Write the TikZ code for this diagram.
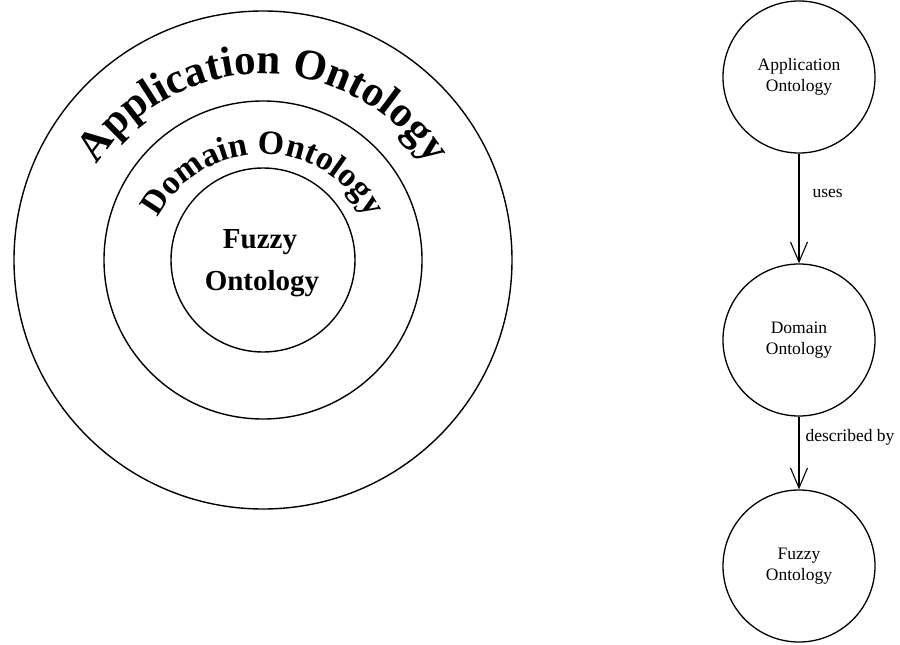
\documentclass[tikz,border=0pt]{standalone}
\usepackage{fontspec}
\setmainfont{Liberation Serif}
\usetikzlibrary{decorations.text,arrows.meta,calc}

\tikzset{
  ring/.style={draw, line width=1.4pt},
  onto/.style={draw, circle, line width=1.3pt, minimum size=152pt, inner sep=0pt,
               align=center, font=\fontsize{17.5}{21.5}\selectfont},
  link/.style={line width=1.1pt, -{Straight Barb[length=20pt,width=17pt,line width=1.1pt]}},
  linklabel/.style={font=\fontsize{17.5}{21}\selectfont, inner sep=0pt},
  arclabel/.style={decorate, decoration={text along path, text align=center}}
}

\begin{document}
\begin{tikzpicture}[x=1pt,y=1pt]
  \useasboundingbox (0,0) rectangle (900,-645);

  % nested ontologies
  \coordinate (c) at (263,-260);
  \coordinate (t) at (263,-272);
  \draw[ring] (c) circle[radius=249pt];
  \draw[ring] (c) circle[radius=159pt];
  \draw[ring] (c) circle[radius=92pt];

  \path[arclabel, decoration={text={|\fontsize{43}{50}\selectfont\bfseries|Application Ontology}}]
    ($(t)+(148:198pt)$) arc[start angle=148, end angle=32, radius=198pt];
  \path[arclabel, decoration={text={|\fontsize{34}{40}\selectfont\bfseries|Domain Ontology}}]
    ($(t)+(150:118pt)$) arc[start angle=150, end angle=30, radius=118pt];

  \node[anchor=base, font=\fontsize{29}{35}\selectfont\bfseries] (fz1) at (260,-248) {Fuzzy};
  \node[anchor=base, font=\fontsize{29}{35}\selectfont\bfseries] (fz2) at (262,-290) {Ontology};

  % usage chain
  \node[onto] (app) at (799,-77)  {Application\\Ontology};
  \node[onto] (dom) at (799,-340) {Domain\\Ontology};
  \node[onto] (fuz) at (799,-566) {Fuzzy\\Ontology};

  \draw[link] (app) -- node[linklabel, pos=0.36, right=13pt] {uses} (dom);
  \draw[link] (dom) -- node[linklabel, pos=0.28, right=6pt] {described by} (fuz);
\end{tikzpicture}
\end{document}
